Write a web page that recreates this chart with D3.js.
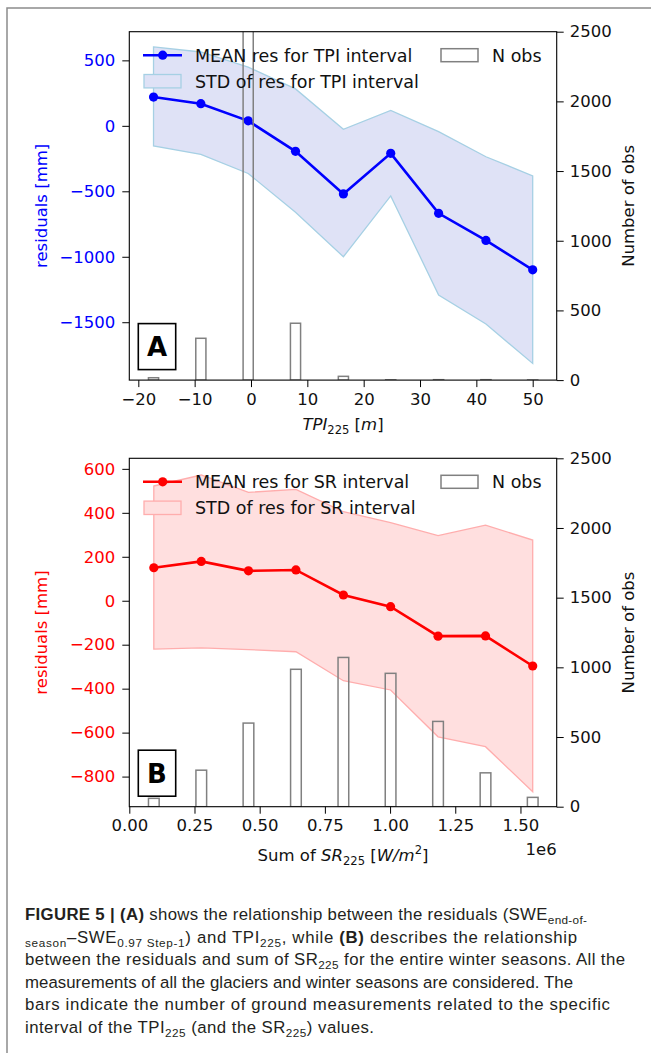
<!DOCTYPE html>
<html>
<head>
<meta charset="utf-8">
<script src="https://cdn.jsdelivr.net/npm/d3@7"></script>
<style>
body { margin: 0; background: #fff; }
svg text { font-family: "DejaVu Sans", sans-serif; white-space: pre; }
</style>
</head>
<body>
<svg id="fig" width="651" height="1053"></svg>
<script>
// ---- data ----
// panel A: TPI intervals
var tpiX = [-17.3, -8.9, -0.5, 7.9, 16.4, 24.8, 33.3, 41.7, 50.0];
var tpiMean = [220, 169, 38, -195, -520, -210, -668, -875, -1100];
var tpiUpper = [603, 564, 449, 282, -26, 118, -44, -236, -382];
var tpiLower = [-154, -218, -364, -660, -1000, -535, -1292, -1514, -1815];
var tpiCount = [17, 300, 3600, 408, 27, 2, 3, 3, 1];

// panel B: SR intervals
var srX = [94000, 276000, 457000, 639000, 821000, 1002000, 1184000, 1366000, 1547000];
var srMean = [150, 179, 136, 140, 26, -27, -161, -160, -297];
var srUpper = [522, 572, 493, 507, 405, 355, 296, 344, 276];
var srLower = [-220, -214, -222, -232, -364, -406, -619, -664, -869];
var srCount = [60, 262, 600, 986, 1071, 957, 612, 243, 67];

// ticks
var tpiTicks = [-20, -10, 0, 10, 20, 30, 40, 50];
var srTicks = [0, 250000, 500000, 750000, 1000000, 1250000, 1500000];
var resTicksA = [-1500, -1000, -500, 0, 500];
var resTicksB = [-800, -600, -400, -200, 0, 200, 400, 600];
var countTicks = [0, 500, 1000, 1500, 2000, 2500];

var svg = d3.select("#fig");

// outer frame of the figure box
svg.append("rect")
  .attr("x", 7).attr("y", 8)
  .attr("width", 800).attr("height", 1200)
  .attr("fill", "none")
  .attr("stroke", "#8c8c8c")
  .attr("stroke-width", 1.5);

var left = 129.3, right = 556.7, h = 348.4;
var tickFont = 16.5, legFont = 17.5;
var intFmt = d3.format("d");

// rich text helper (bold / italic / sub / sup parts)
function rich(sel, parts, size) {
  var txt = sel.append("text").style("font-size", size + "px");
  var shift = 0;
  parts.forEach(function(p) {
    var s = p.sub ? 0.25 * size : (p.sup ? -0.42 * size : 0);
    txt.append("tspan")
      .attr("dy", s - shift)
      .style("font-size", (p.sub || p.sup) ? (0.7 * size) + "px" : null)
      .style("font-weight", p.b ? "bold" : null)
      .style("font-style", p.i ? "italic" : null)
      .text(p.t);
    shift = s;
  });
  return txt;
}

function panel(cfg) {
  var top = cfg.top;
  var g = svg.append("g");

  var x = d3.scaleLinear().domain(cfg.xlim).range([left, right]);
  var y = d3.scaleLinear().domain(cfg.ylim).range([top + h, top]);
  var y2 = d3.scaleLinear().domain([0, 2500]).range([top + h, top]);

  var clipId = "clip" + cfg.letter;
  svg.append("clipPath").attr("id", clipId)
    .append("rect").attr("x", left).attr("y", top)
    .attr("width", right - left).attr("height", h);

  var plot = g.append("g").attr("clip-path", "url(#" + clipId + ")");

  // std band
  var pts = cfg.xs.map(function(d, i) { return [x(d), y(cfg.upper[i])]; });
  for (var i = cfg.xs.length - 1; i >= 0; i--) pts.push([x(cfg.xs[i]), y(cfg.lower[i])]);
  plot.append("path")
    .attr("d", "M" + pts.join("L") + "Z")
    .attr("fill", cfg.fill)
    .attr("stroke", cfg.edge)
    .attr("stroke-width", 1.3);

  // mean line
  var line = d3.line().x(function(d, i) { return x(cfg.xs[i]); }).y(function(d) { return y(d); });
  plot.append("path").datum(cfg.mean)
    .attr("d", line)
    .attr("fill", "none")
    .attr("stroke", cfg.color)
    .attr("stroke-width", 2.6);
  plot.selectAll("circle.pt").data(cfg.mean).enter().append("circle")
    .attr("cx", function(d, i) { return x(cfg.xs[i]); })
    .attr("cy", function(d) { return y(d); })
    .attr("r", 4.6)
    .attr("fill", cfg.color);

  // legend (frameless)
  var ly1 = top + 23.5, ly2 = top + 49.5;
  g.append("line").attr("x1", 143).attr("x2", 182).attr("y1", ly1).attr("y2", ly1)
    .attr("stroke", cfg.color).attr("stroke-width", 2.6);
  g.append("circle").attr("cx", 162.7).attr("cy", ly1).attr("r", 4.6).attr("fill", cfg.color);
  g.append("rect").attr("x", 144).attr("y", ly2 - 6.7).attr("width", 37).attr("height", 13.4)
    .attr("fill", cfg.fill).attr("stroke", cfg.edge).attr("stroke-width", 1.3);
  g.append("rect").attr("x", 441).attr("y", ly1 - 6.5).attr("width", 37).attr("height", 13)
    .attr("fill", "none").attr("stroke", "#808080").attr("stroke-width", 1.5);
  g.append("text").attr("x", 195).attr("y", ly1).attr("dy", "0.36em")
    .style("font-size", legFont + "px").attr("fill", "#111").text(cfg.meanLabel);
  g.append("text").attr("x", 195).attr("y", ly2).attr("dy", "0.36em")
    .style("font-size", legFont + "px").attr("fill", "#111").text(cfg.stdLabel);
  g.append("text").attr("x", 492).attr("y", ly1).attr("dy", "0.36em")
    .style("font-size", legFont + "px").attr("fill", "#111").text("N obs");

  // count bars (twin axis, drawn on top)
  var bw = x(cfg.xlim[0] + cfg.barWidth) - x(cfg.xlim[0]);
  plot.selectAll("rect.bar").data(cfg.count).enter().append("rect")
    .attr("class", "bar")
    .attr("x", function(d, i) { return x(cfg.xs[i]) - bw / 2; })
    .attr("y", function(d) { return y2(d); })
    .attr("width", bw)
    .attr("height", function(d) { return y2(0) - y2(d); })
    .attr("fill", "none")
    .attr("stroke", "#808080")
    .attr("stroke-width", 1.5);

  // axes
  var xAxis = d3.axisBottom(x).tickValues(cfg.xticks).tickSize(7).tickPadding(6).tickSizeOuter(0)
    .tickFormat(cfg.xfmt);
  var yAxis = d3.axisLeft(y).tickValues(cfg.yticks).tickSize(7).tickPadding(7).tickSizeOuter(0)
    .tickFormat(intFmt);
  var y2Axis = d3.axisRight(y2).tickValues(countTicks).tickSize(7).tickPadding(6).tickSizeOuter(0)
    .tickFormat(intFmt);

  var gx = g.append("g").attr("transform", "translate(0," + (top + h) + ")").call(xAxis);
  var gy = g.append("g").attr("transform", "translate(" + left + ",0)").call(yAxis);
  var gy2 = g.append("g").attr("transform", "translate(" + right + ",0)").call(y2Axis);
  [gx, gy, gy2].forEach(function(a) {
    a.select(".domain").remove();
    a.selectAll("line").attr("stroke", "#000").attr("stroke-width", 1);
    a.selectAll("text").style("font-size", tickFont + "px").attr("fill", "#111")
      .style("font-family", "DejaVu Sans");
  });
  gy.selectAll("text").attr("fill", cfg.color);

  g.append("rect").attr("x", left).attr("y", top).attr("width", right - left).attr("height", h)
    .attr("fill", "none").attr("stroke", "#000").attr("stroke-width", 1.1);

  // axis labels
  g.append("text")
    .attr("transform", "translate(41," + (top + h / 2) + ") rotate(-90)")
    .attr("text-anchor", "middle").attr("dominant-baseline", "central")
    .style("font-size", tickFont + "px").attr("fill", cfg.color)
    .text("residuals [mm]");
  g.append("text")
    .attr("transform", "translate(628," + (top + h / 2) + ") rotate(-90)")
    .attr("text-anchor", "middle").attr("dominant-baseline", "central")
    .style("font-size", tickFont + "px").attr("fill", "#111")
    .text("Number of obs");
  rich(g, cfg.xlabel, tickFont)
    .attr("x", (left + right) / 2).attr("y", cfg.xlabelY)
    .attr("text-anchor", "middle").attr("fill", "#111");

  if (cfg.offsetText) {
    g.append("text").attr("x", right).attr("y", top + h + 48)
      .attr("text-anchor", "end").style("font-size", tickFont + "px").attr("fill", "#111")
      .text(cfg.offsetText);
  }

  // panel letter box
  g.append("rect").attr("x", 138.3).attr("y", top + h - 56.5).attr("width", 37.4).attr("height", 46)
    .attr("fill", "#fff").attr("stroke", "#000").attr("stroke-width", 1.6);
  g.append("text").attr("x", 157).attr("y", top + h - 33.5).attr("dy", "0.36em")
    .attr("text-anchor", "middle").style("font-size", "26px").style("font-weight", "bold")
    .text(cfg.letter);
}

panel({
  letter: "A", top: 31.7,
  xlim: [-21.6, 54.26], ylim: [-1942, 719],
  xs: tpiX, mean: tpiMean, upper: tpiUpper, lower: tpiLower, count: tpiCount,
  barWidth: 1.8,
  xticks: tpiTicks, yticks: resTicksA, xfmt: intFmt,
  color: "#0000ff", fill: "#dfe2f6", edge: "#a6d0e4",
  meanLabel: "MEAN res for TPI interval", stdLabel: "STD of res for TPI interval",
  xlabel: [{t: "TPI", i: true}, {t: "225", sub: true}, {t: " ["}, {t: "m", i: true}, {t: "]"}],
  xlabelY: 430
});

panel({
  letter: "B", top: 458.3,
  xlim: [0, 1639000], ylim: [-937, 648],
  xs: srX, mean: srMean, upper: srUpper, lower: srLower, count: srCount,
  barWidth: 41000,
  xticks: srTicks, yticks: resTicksB, xfmt: function(d) { return d3.format(".2f")(d / 1e6); },
  color: "#ff0000", fill: "#ffdfdf", edge: "#ffadad",
  meanLabel: "MEAN res for SR interval", stdLabel: "STD of res for SR interval",
  xlabel: [{t: "Sum of "}, {t: "SR", i: true}, {t: "225", sub: true}, {t: " ["}, {t: "W/m", i: true}, {t: "2", sup: true}, {t: "]"}],
  xlabelY: 861,
  offsetText: "1e6"
});

// ---- caption ----
var capLines = [
  [{t: "FIGURE 5 | (A)", b: true}, {t: " shows the relationship between the residuals (SWE"}, {t: "end-of-", sub: true}],
  [{t: "season", sub: true}, {t: "\u2013SWE"}, {t: "0.97 Step-1", sub: true}, {t: ") and TPI"}, {t: "225", sub: true},
   {t: ", while "}, {t: "(B)", b: true}, {t: " describes the relationship"}],
  [{t: "between the residuals and sum of SR"}, {t: "225", sub: true}, {t: " for the entire winter seasons. All the"}],
  [{t: "measurements of all the glaciers and winter seasons are considered. The"}],
  [{t: "bars indicate the number of ground measurements related to the specific"}],
  [{t: "interval of the TPI"}, {t: "225", sub: true}, {t: " (and the SR"}, {t: "225", sub: true}, {t: ") values."}]
];
var capEnds = [587, 577, 625, 573, 610, 374];
var capX = 25, capY0 = 920, capStep = 22.5;
var capFont = "'Liberation Sans', Arial, sans-serif";

capLines.forEach(function(parts, i) {
  var t = rich(svg, parts, 16.8)
    .attr("x", capX).attr("y", capY0 + i * capStep)
    .style("font-family", capFont).attr("fill", "#231f20");
  t.selectAll("tspan").style("font-family", capFont);
  // fit each line to its width in the figure by spreading the letters
  var w = t.node().getComputedTextLength();
  var n = parts.reduce(function(a, p) { return a + p.t.length; }, 0);
  var ls = (capEnds[i] - capX - w) / (n - 1);
  t.style("letter-spacing", ls + "px");
});
</script>
</body>
</html>
